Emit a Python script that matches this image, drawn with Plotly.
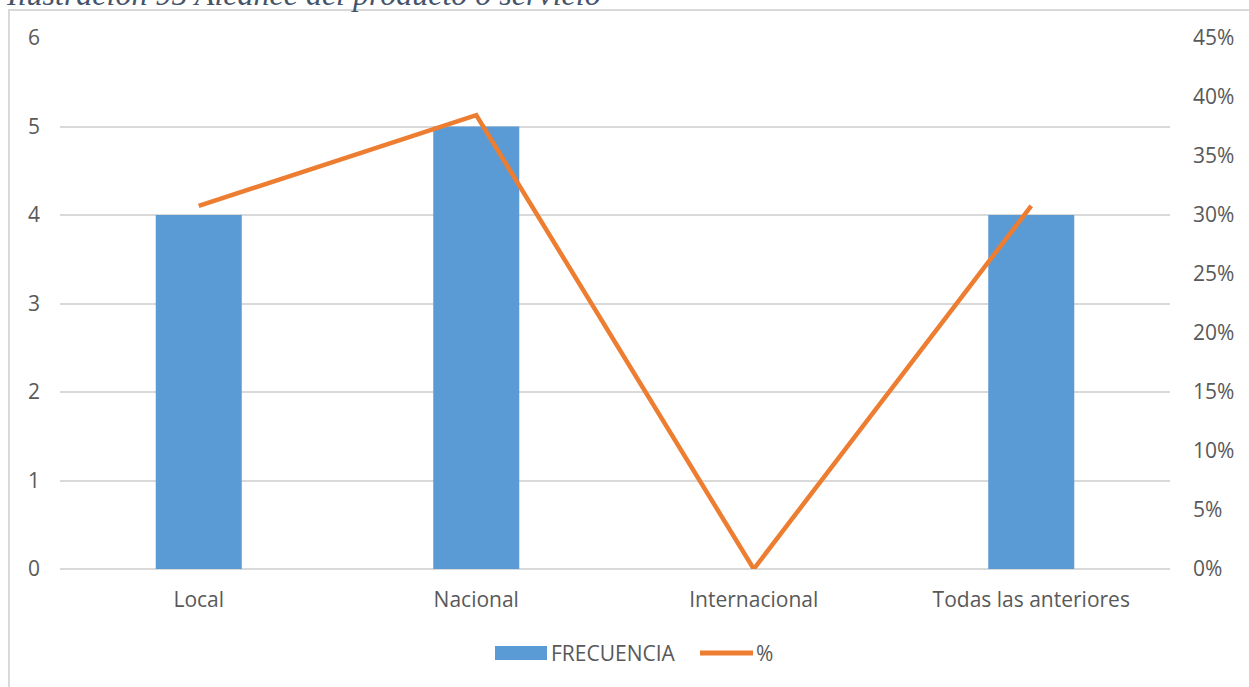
import plotly.graph_objects as go

categories = ["Local", "Nacional", "Internacional", "Todas las anteriores"]
frecuencia = [4, 5, 0, 4]
porcentaje = [0.3077, 0.3846, 0.0, 0.3077]
y_ticks = [0, 1, 2, 3, 4, 5, 6]
y2_ticks = [0, 0.05, 0.10, 0.15, 0.20, 0.25, 0.30, 0.35, 0.40, 0.45]
title_text = "Ilustración 95 Alcance del producto o servicio"
legend_names = ["FRECUENCIA", "%"]

W, H = 1249, 687
L, R, T, B = 60, 79, 38, 118
pw, ph = W - L - R, H - T - B

def px_x(p):
    return (p - L) / pw

def px_y(p):
    return (H - B - p) / ph

FONT = "Open Sans"
GRAY = "#595959"
BLUE = "#5B9BD5"
ORANGE = "#ED7D31"
FS = 21

fig = go.Figure()
fig.add_trace(go.Bar(x=categories, y=frecuencia, name=legend_names[0],
                     marker=dict(color=BLUE, line=dict(width=0)), width=0.31))
fig.add_trace(go.Scatter(x=categories, y=porcentaje, name=legend_names[1], yaxis="y2",
                         mode="lines", line=dict(color=ORANGE, width=4.5)))

fig.update_layout(
    width=W, height=H,
    margin=dict(l=L, r=R, t=T, b=B, autoexpand=False),
    paper_bgcolor="white", plot_bgcolor="white",
    font=dict(family=FONT, color=GRAY, size=FS),
    showlegend=False,
    xaxis=dict(showgrid=False, showline=False, ticks="", ticklabelstandoff=16,
               automargin=False, tickfont=dict(size=FS, color=GRAY)),
    yaxis=dict(range=[0, 6], tickvals=y_ticks, showgrid=True, gridcolor="#D9D9D9",
               gridwidth=1.5, zeroline=True, zerolinecolor="#D9D9D9", zerolinewidth=1.5,
               showline=False, ticks="", ticklabelstandoff=19, automargin=False,
               tickfont=dict(size=FS, color=GRAY)),
    yaxis2=dict(range=[0, 0.45], tickvals=y2_ticks, tickformat=".0%", overlaying="y",
                side="right", showgrid=False, zeroline=False, showline=False, ticks="",
                ticklabelstandoff=22, automargin=False, tickfont=dict(size=FS, color=GRAY)),
)

# outer chart border
fig.add_shape(type="rect", xref="paper", yref="paper",
              x0=px_x(9), x1=px_x(1260), y0=px_y(700), y1=px_y(10),
              line=dict(color="#D9D9D9", width=2), fillcolor="rgba(0,0,0,0)", layer="below")

# legend (drawn manually to match wide swatches)
fig.add_shape(type="rect", xref="paper", yref="paper",
              x0=px_x(495), x1=px_x(547), y0=px_y(660), y1=px_y(646),
              line=dict(width=0), fillcolor=BLUE)
fig.add_annotation(text=legend_names[0], xref="paper", yref="paper",
                   x=px_x(549), xanchor="left", y=px_y(653), yanchor="middle",
                   showarrow=False, font=dict(size=FS, color=GRAY, family=FONT))
fig.add_shape(type="line", xref="paper", yref="paper",
              x0=px_x(700), x1=px_x(753), y0=px_y(653), y1=px_y(653),
              line=dict(color=ORANGE, width=5))
fig.add_annotation(text=legend_names[1], xref="paper", yref="paper",
                   x=px_x(754), xanchor="left", y=px_y(653), yanchor="middle",
                   showarrow=False, font=dict(size=FS, color=GRAY, family=FONT))

# cut-off document caption above the chart
fig.add_annotation(text=title_text, xref="paper", yref="paper",
                   x=px_x(4), xanchor="left", y=px_y(14), yanchor="bottom",
                   showarrow=False,
                   font=dict(family="Liberation Serif", size=32, color="#44546A", style="italic"))

fig.write_html("out.html", post_script="document.body.style.margin='0';",
               config={"displayModeBar": False})
